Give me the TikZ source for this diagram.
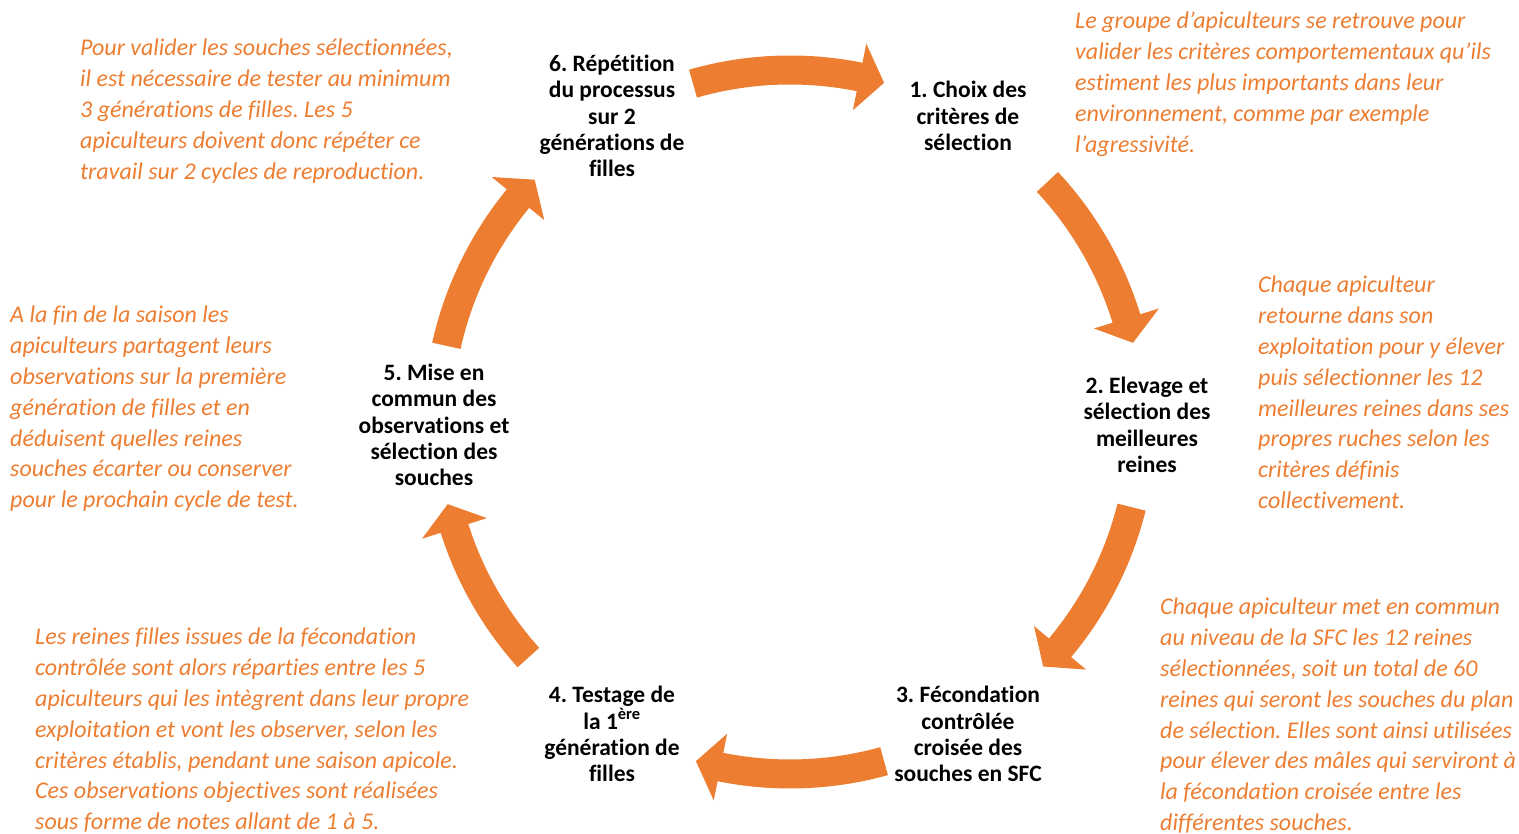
\documentclass[tikz,border=0pt]{standalone}
\usepackage{fontspec}
\setmainfont[Ligatures={NoCommon}]{Carlito}
\frenchspacing
\definecolor{org}{HTML}{ED7D31}
\tikzset{
  stage/.style={font=\fontsize{23.5}{26.3}\selectfont\bfseries, align=center, inner sep=0pt, text=black},
  note/.style={font=\fontsize{24}{30.8}\selectfont\itshape, align=left, inner sep=0pt, text=org, anchor=north west},
  blockarrow/.style={fill=org, draw=none}
}
\def\Rc{352}
\def\Ro{366.5}
\def\Ri{337.5}
\def\Rh{386}
\def\Rhi{318}
\newcommand\cyclearrow[2]{%
  \pgfmathsetmacro\hb{#2+4.1}%
  \fill[blockarrow] (#1:\Ro) arc[start angle=#1, end angle=\hb, radius=\Ro]
    -- (\hb:\Rh) -- (#2:\Rc) -- (\hb:\Rhi) -- (\hb:\Ri)
    arc[start angle=\hb, end angle=#1, radius=\Ri] -- cycle;}
\begin{document}
\begin{tikzpicture}[x=1pt,y=1pt]
\useasboundingbox (0,0) rectangle (1519,834);
% arrows
\begin{scope}[shift={(790,412)}]
  \cyclearrow{106}{74.5}
  \cyclearrow{43}{13}
  \cyclearrow{-14}{-44}
  \cyclearrow{-74.5}{-105.5}
  \cyclearrow{-138}{-166.5}
  \cyclearrow{167.5}{136.5}
\end{scope}
% stages
\node[stage] (s6) at (612,834-116) {6. Répétition\\du processus\\sur 2\\générations de\\filles};
\node[stage] (s1) at (968,834-116) {1. Choix des\\critères de\\sélection};
\node[stage] (s2) at (1147,834-425) {2. Elevage et\\sélection des\\meilleures\\reines};
\node[stage] (s3) at (968,834-734) {3. Fécondation\\contrôlée\\croisée des\\souches en SFC};
\node[stage] (s4) at (612,834-734) {4. Testage de\\la 1\textsuperscript{ère}\\génération de\\filles};
\node[stage] (s5) at (434,834-425) {5. Mise en\\commun des\\observations et\\sélection des\\souches};
% notes
\node[note] (n6) at (80,834-39) {Pour valider les souches sélectionnées,\\il est nécessaire de tester au minimum\\3 générations de filles. Les 5\\apiculteurs doivent donc répéter ce\\travail sur 2 cycles de reproduction.};
\node[note] (n1) at (1075,834-12) {Le groupe d’apiculteurs se retrouve pour\\valider les critères comportementaux qu’ils\\estiment les plus importants dans leur\\environnement, comme par exemple\\l’agressivité.};
\node[note] (n2) at (1258,834-276) {Chaque apiculteur\\retourne dans son\\exploitation pour y élever\\puis sélectionner les 12\\meilleures reines dans ses\\propres ruches selon les\\critères définis\\collectivement.};
\node[note] (n3) at (1160,834-598) {Chaque apiculteur met en commun\\au niveau de la SFC les 12 reines\\sélectionnées, soit un total de 60\\reines qui seront les souches du plan\\de sélection. Elles sont ainsi utilisées\\pour élever des mâles qui serviront à\\la fécondation croisée entre les\\différentes souches.};
\node[note] (n4) at (35,834-628) {Les reines filles issues de la fécondation\\contrôlée sont alors réparties entre les 5\\apiculteurs qui les intègrent dans leur propre\\exploitation et vont les observer, selon les\\critères établis, pendant une saison apicole.\\Ces observations objectives sont réalisées\\sous forme de notes allant de 1 à 5.};
\node[note] (n5) at (10,834-306) {A la fin de la saison les\\apiculteurs partagent leurs\\observations sur la première\\génération de filles et en\\déduisent quelles reines\\souches écarter ou conserver\\pour le prochain cycle de test.};
\end{tikzpicture}
\end{document}
